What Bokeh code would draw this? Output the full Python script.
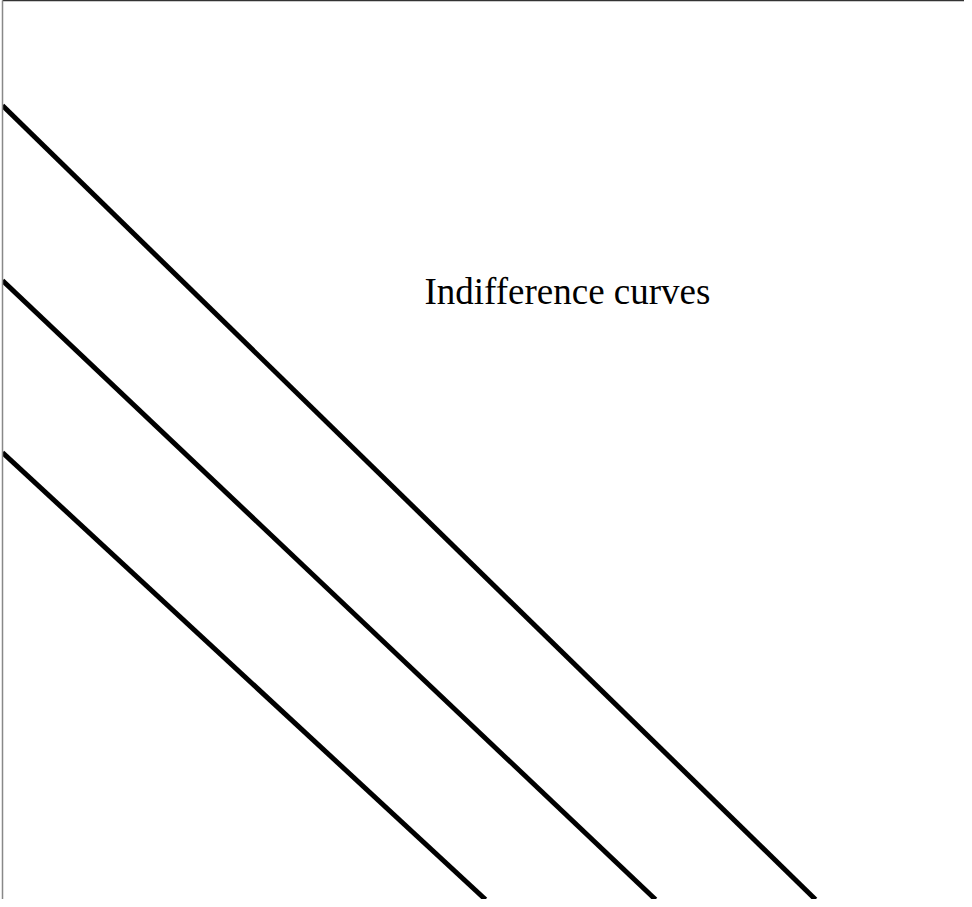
from bokeh.plotting import figure
from bokeh.models import Range1d
from bokeh.embed import file_html
from bokeh.resources import INLINE
from bokeh.core.properties import value

# Indifference curves: y-intercept and x-intercept (data units)
curve_names = ["U1", "U2", "U3"]
y_intercepts = [79.4, 61.9, 44.7]
x_intercepts = [81.3, 65.3, 48.3]

label_text = ["Indifference curves"]
label_x = [42.2]
label_y = [60.8]

p = figure(width=964, height=899, output_backend="svg", toolbar_location=None,
           x_range=Range1d(0, 96.2), y_range=Range1d(0, 89.9),
           x_axis_location="above", y_axis_location="left",
           min_border=0, min_border_left=2, min_border_top=0,
           min_border_right=0, min_border_bottom=0)
p.outline_line_color = None
p.grid.visible = False
p.background_fill_color = "white"
p.border_fill_color = "white"

for ax, col in ((p.xaxis[0], "#333333"), (p.yaxis[0], "#888888")):
    ax.axis_line_color = col
    ax.axis_line_width = 1.5
    ax.major_tick_line_color = None
    ax.minor_tick_line_color = None
    ax.major_tick_in = 0
    ax.major_tick_out = 0
    ax.minor_tick_in = 0
    ax.minor_tick_out = 0
    ax.major_label_text_font_size = "0px"
    ax.major_label_standoff = 0
    ax.major_label_text_color = None

for yi, xi in zip(y_intercepts, x_intercepts):
    p.line([0, xi], [yi, 0], line_color="black", line_width=5)

p.text(x=label_x, y=label_y, text=label_text, text_font=value("Liberation Serif"),
       text_font_size="37px", text_color="black", text_baseline="alphabetic",
       text_align="left")

open("out.html", "w").write(file_html(p, INLINE))
